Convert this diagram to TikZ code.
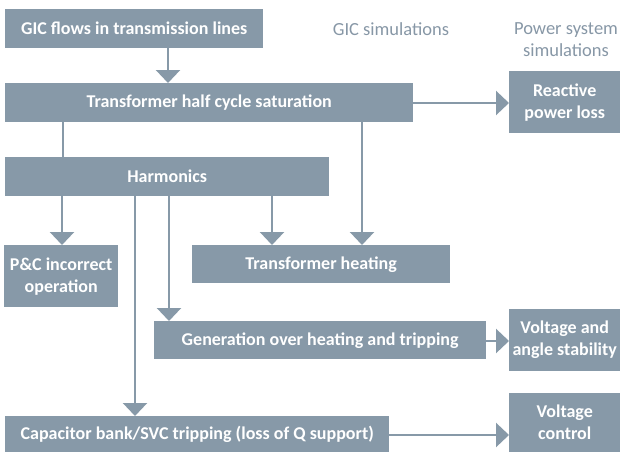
\documentclass[tikz,border=0pt]{standalone}
\usepackage{fontspec}
\setmainfont{Carlito}
\usetikzlibrary{arrows.meta}
\definecolor{boxc}{HTML}{8799A8}
\definecolor{headc}{HTML}{8797A6}
\begin{document}
\begin{tikzpicture}[x=1pt,y=-1pt,
  box/.style={fill=boxc,draw=none,text=white,anchor=north west,inner sep=0pt,align=center,
     font=\fontsize{18}{22}\selectfont\bfseries},
  head/.style={text=headc,align=center,font=\fontsize{18.5}{22}\selectfont},
  conn/.style={draw=boxc,line width=2.5pt},
  arr/.style={conn,-{Triangle[width=24pt,length=13pt]}}]
\useasboundingbox (0,0) rectangle (620,452);
% boxes
\node[box,minimum width=258pt,minimum height=39pt] (gic) at (5,9) {GIC flows in transmission lines};
\node[box,minimum width=408pt,minimum height=39pt] (thcs) at (5,83) {Transformer half cycle saturation};
\node[box,minimum width=111pt,minimum height=62pt] (rpl) at (509,71) {Reactive\\power loss};
\node[box,minimum width=324pt,minimum height=39pt] (harm) at (5,157) {Harmonics};
\node[box,minimum width=114pt,minimum height=62pt] (pc) at (4,245) {P\&C incorrect\\operation};
\node[box,minimum width=258pt,minimum height=38pt] (th) at (192,245) {Transformer heating};
\node[box,minimum width=332pt,minimum height=38pt] (gen) at (154,321) {Generation over heating and tripping};
\node[box,minimum width=111pt,minimum height=62pt] (vas) at (509,309) {Voltage and\\angle stability};
\node[box,minimum width=384pt,minimum height=36pt] (cap) at (5,416) {Capacitor bank/SVC tripping (loss of Q support)};
\node[box,minimum width=111pt,minimum height=59pt] (vc) at (509,393) {Voltage\\control};
% headings
\node[head] (h1) at (391,29) {GIC simulations};
\node[head] (h2) at (566,40) {Power system\\simulations};
% x positions of drop lines
\coordinate (xa) at (168,0);
\coordinate (xb) at (63,0);
\coordinate (xc) at (362,0);
\coordinate (xd) at (62,0);
\coordinate (xe) at (135,0);
\coordinate (xf) at (169,0);
\coordinate (xg) at (272,0);
\coordinate (ya) at (0,103);
\coordinate (yb) at (0,341);
\coordinate (yc) at (0,435);
% connectors
\draw[arr] (gic.south -| xa) -- (thcs.north -| xa);
\draw[conn] (thcs.south -| xb) -- (harm.north -| xb);
\draw[arr] (thcs.south -| xc) -- (th.north -| xc);
\draw[arr] (thcs.east |- ya) -- (rpl.west |- ya);
\draw[arr] (harm.south -| xd) -- (pc.north -| xd);
\draw[arr] (harm.south -| xe) -- (cap.north -| xe);
\draw[arr] (harm.south -| xf) -- (gen.north -| xf);
\draw[arr] (harm.south -| xg) -- (th.north -| xg);
\draw[arr] (gen.east |- yb) -- (vas.west |- yb);
\draw[arr] (cap.east |- yc) -- (vc.west |- yc);
\end{tikzpicture}
\end{document}
